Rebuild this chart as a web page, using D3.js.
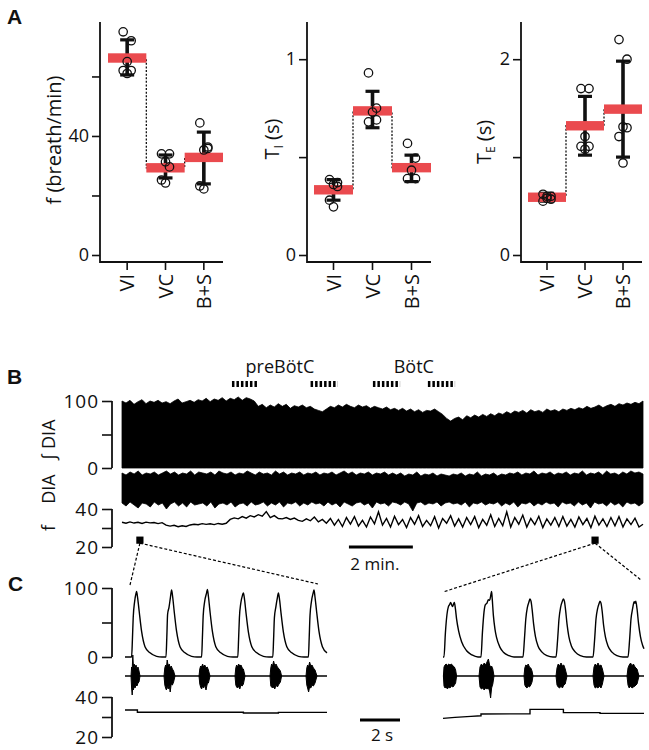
<!DOCTYPE html>
<html><head><meta charset="utf-8">
<script src="https://cdn.jsdelivr.net/npm/d3@7"></script>
<style>body{margin:0;background:#fff} svg{display:block} text{font-family:"Open Sans",sans-serif;fill:#111}</style>
</head><body><svg id="c" width="649" height="750"></svg>
<script>
// ---------------- Panel A data ----------------
const categories = ["VI", "VC", "B+S"];
const fPoints = [[75, 72, 65, 62, 62, 61], [34, 34, 31.3, 29.6, 25.2, 24.2], [44.4, 36.3, 35.3, 35.8, 23.2, 22.2]];
const fMean = [66.2, 29.3, 32.8];
const fErr = [[60.5, 72.3], [25.9, 33.6], [23.9, 41.3]];
const fTicks = [0, 20, 40, 60];
const fTickLabels = ["0", "", "40", ""];

const tiPoints = [[0.385, 0.37, 0.36, 0.35, 0.28, 0.246], [0.93, 0.75, 0.73, 0.69, 0.68], [0.57, 0.495, 0.433, 0.39, 0.39]];
const tiMean = [0.333, 0.736, 0.446];
const tiErr = [[0.28, 0.385], [0.65, 0.836], [0.375, 0.51]];
const tiTicks = [0, 0.5, 1];
const tiTickLabels = ["0", "", "1"];

const tePoints = [[0.62, 0.6, 0.58, 0.57, 0.55, 0.6], [1.70, 1.70, 1.21, 1.11, 1.11, 1.08], [2.2, 2.0, 1.31, 1.3, 1.21, 0.94]];
const teMean = [0.59, 1.32, 1.49];
const teErr = [[0.55, 0.63], [1.02, 1.62], [1.0, 1.98]];
const teTicks = [0, 1, 2];
const teTickLabels = ["0", "", "2"];

// ---------------- Panel B data (16.3 min recording) ----------------
const bSpanMin = 16.3;
const intDiaTop = [100,97,101,95,99,102,96,100,98,101,97,99,96,100,103,97,99,101,98,102,
 100,104,99,103,101,105,100,104,102,106,101,105,103,100,
 92,95,90,94,91,96,92,95,89,93,91,94,90,92,88,86,84,
 88,92,90,94,91,95,92,90,94,91,93,89,92,90,88,91,87,89,
 86,89,85,88,84,87,83,86,85,88,84,80,74,
 70,74,76,72,78,75,79,76,80,77,81,78,82,80,
 84,81,85,83,86,82,87,84,86,83,88,85,87,84,88,
 86,89,87,90,88,92,89,91,94,90,93,95,92,96,94,97,95,98,96,100];
const rawDiaTop = [14,12,15,13,16,12,14,13,15,12,14,16,13,15,12,14,13,16,12,15,
 14,13,15,12,16,14,13,15,12,14,13,16,14,12,
 15,13,14,12,16,13,15,12,14,13,15,12,14,13,15,12,14,
 13,15,12,14,16,13,15,12,14,13,15,12,14,13,15,12,14,
 12,14,11,13,12,15,11,13,12,14,11,13,12,
 11,13,12,14,11,13,12,15,11,13,12,14,11,13,
 12,14,13,15,12,14,13,16,12,14,13,15,12,14,13,
 15,12,14,13,16,12,14,13,15,12,16,13,14,12,15,13,16,14,15,13];
const rawDiaBottom = [-16,-19,-15,-18,-21,-16,-17,-20,-15,-18,-16,-22,-17,-15,-19,-16,-20,-15,-18,-17,
 -16,-19,-15,-21,-17,-16,-18,-15,-20,-17,-16,-19,-15,-18,
 -17,-15,-19,-16,-18,-15,-20,-16,-17,-15,-19,-16,-18,-15,-17,-16,-19,
 -15,-18,-16,-20,-15,-17,-19,-16,-15,-18,-16,-21,-15,-17,-16,-19,-15,
 -16,-18,-15,-17,-24,-16,-15,-18,-16,-17,-15,-19,-16,
 -15,-17,-16,-18,-15,-20,-16,-17,-15,-18,-16,-17,-15,-19,
 -16,-18,-15,-20,-16,-17,-15,-19,-16,-18,-15,-17,-16,-20,-15,
 -17,-16,-19,-15,-18,-16,-21,-15,-17,-16,-19,-15,-18,-16,-20,-15,-17,-16,-19,-16];
const freqB = [33,32.5,33.2,32.6,33,32.4,33.1,32.7,32.9,32.3,32.8,
 31.5,31,31.4,30.7,31.2,30.8,31.6,
 32,31.7,32.3,31.9,32.2,31.8,32.4,32,32.5,
 34.5,35.3,34.8,36,35.2,36.5,35.8,37,36.2,38.6,35.5,
 36.5,35,34.8,35.5,34.5,35.2,34,33.5,34.8,33.8,35.8,33.2,34.5,
 32.5,35,31.5,34.5,30.8,35.5,32,36,31,34,30.5,35.8,32.2,38.5,31.5,35,30.5,36.2,31.8,34.5,
 30.2,35.5,32,36.5,30.8,34,31.2,36,30,35,32.5,36.5,31,34.8,30.5,35.5,31.8,36,30.2,34.5,
 31.5,37,30.8,35,31.2,38.5,30.5,35.5,32,36.8,30.5,35,31.8,36.2,30.2,34.8,31.5,35.5,30.8,36,
 31,34.5,30.5,35.8,31.8,35,30.2,36.2,31.5,34.8,30.8,35.5,31.2,36,30.5,34.8,31.8,35.2,30.5,32];
const stimWindows = [[3.44, 4.25], [5.9, 6.75], [7.85, 8.7], [9.57, 10.42]];
const stimSites = ["preBötC", "BötC"];
const stimSiteCenters = [4.94, 9.13];
const zoomWindowsMin = [0.56, 14.8];
const bScaleBar = {start: 7.1, length: 2, label: "2 min."};
const intTicks = [0, 50, 100], intTickLabels = ["0", "", "100"];
const fTicksB = [20, 30, 40], fTickLabelsB = ["20", "", "40"];

// ---------------- Panel C data (seconds) ----------------
const cIntLeft = [[0,0],[0.33,0],[0.37,25],[0.41,57],[0.48,80],[0.55,92],[0.58,95],[0.63,86],[0.71,66],[0.83,37],[1.0,15],[1.25,6],[1.58,1],[1.85,0],
 [2.05,0],[2.09,28],[2.13,62],[2.2,72],[2.27,86],[2.33,97],[2.38,88],[2.46,66],[2.58,37],[2.75,15],[3.0,6],[3.33,1],[3.6,0],
 [3.83,0],[3.87,28],[3.91,60],[3.98,80],[4.08,93],[4.12,98],[4.17,88],[4.25,66],[4.37,37],[4.54,15],[4.79,6],[5.12,1],[5.4,0],
 [5.64,0],[5.68,26],[5.72,57],[5.79,78],[5.88,90],[5.92,93],[5.97,85],[6.05,64],[6.17,36],[6.34,15],[6.59,6],[6.92,1],[7.2,0],
 [7.39,0],[7.43,26],[7.47,57],[7.54,72],[7.62,86],[7.67,93],[7.72,85],[7.8,64],[7.92,36],[8.09,15],[8.34,6],[8.67,1],[8.95,0],
 [9.17,0],[9.21,28],[9.25,60],[9.32,80],[9.41,93],[9.45,97],[9.5,87],[9.58,66],[9.7,37],[9.87,15],[10.1,6]];
const cIntRight = [[0,0],[0.05,0],[0.12,35],[0.2,62],[0.27,73],[0.33,76],[0.38,79],[0.44,75],[0.48,73],[0.53,77],[0.57,79],[0.62,70],[0.68,55],[0.78,38],[0.93,22],[1.18,9],[1.45,3],[1.75,0],
 [1.9,0],[1.97,35],[2.05,65],[2.12,76],[2.2,78],[2.27,83],[2.33,82],[2.38,88],[2.43,95],[2.46,85],[2.52,60],[2.6,40],[2.68,28],[2.85,14],[3.02,7],[3.3,2],[3.55,0],
 [4.0,0],[4.07,25],[4.14,55],[4.22,72],[4.3,80],[4.35,84],[4.4,81],[4.46,68],[4.53,48],[4.62,30],[4.75,16],[4.95,7],[5.2,2],[5.5,0],
 [5.65,0],[5.73,25],[5.8,55],[5.88,72],[5.97,81],[6.02,84],[6.07,81],[6.13,68],[6.2,48],[6.29,30],[6.42,16],[6.62,7],[6.87,2],[7.17,0],
 [7.5,0],[7.58,25],[7.65,55],[7.73,70],[7.81,78],[7.85,81],[7.9,78],[7.96,66],[8.03,46],[8.12,29],[8.25,16],[8.45,7],[8.7,2],[9.0,0],
 [9.25,0],[9.33,25],[9.4,55],[9.48,70],[9.56,80],[9.6,78],[9.64,81],[9.7,70],[9.78,48],[9.87,30],[9.98,17],[10.05,12]];
const cBurstsLeft = [
 [[0.3,0,0],[0.33,9,-12],[0.36,6,-19],[0.39,21,-9],[0.42,10,-14],[0.46,12,-10],[0.5,8,-12],[0.55,11,-9],[0.6,7,-10],[0.65,9,-7],[0.7,5,-6],[0.75,0,0]],
 [[1.95,0,0],[1.99,8,-9],[2.03,11,-12],[2.07,8,-14],[2.11,16,-10],[2.16,10,-13],[2.21,12,-9],[2.26,8,-16],[2.31,10,-8],[2.37,7,-9],[2.43,5,-6],[2.5,0,0]],
 [[3.7,0,0],[3.74,7,-8],[3.78,10,-11],[3.83,9,-13],[3.88,12,-10],[3.93,9,-12],[3.99,11,-9],[4.05,8,-14],[4.11,9,-8],[4.17,6,-7],[4.25,0,0]],
 [[5.5,0,0],[5.54,8,-9],[5.58,11,-11],[5.63,9,-12],[5.68,12,-10],[5.74,10,-13],[5.8,11,-9],[5.86,8,-10],[5.92,7,-8],[6.0,0,0]],
 [[7.25,0,0],[7.29,8,-10],[7.33,12,-11],[7.38,10,-12],[7.43,15,-11],[7.49,10,-13],[7.55,12,-9],[7.62,9,-11],[7.7,7,-8],[7.77,5,-6],[7.83,0,0]],
 [[9.05,0,0],[9.09,8,-9],[9.13,11,-12],[9.18,9,-16],[9.23,14,-11],[9.29,10,-12],[9.35,11,-9],[9.42,8,-10],[9.5,6,-7],[9.6,0,0]]];
const cBurstsRight = [
 [[0.02,0,0],[0.05,9,-10],[0.1,11,-12],[0.16,12,-11],[0.22,10,-13],[0.28,12,-11],[0.35,11,-12],[0.42,12,-10],[0.5,10,-11],[0.57,9,-9],[0.63,6,-7],[0.68,0,0]],
 [[1.8,0,0],[1.85,9,-11],[1.92,12,-13],[1.99,10,-12],[2.06,13,-14],[2.13,11,-12],[2.2,14,-13],[2.27,17,-12],[2.33,11,-15],[2.38,9,-22],[2.43,10,-12],[2.49,7,-8],[2.55,0,0]],
 [[4.05,0,0],[4.09,8,-9],[4.14,11,-11],[4.2,10,-12],[4.26,12,-10],[4.32,9,-11],[4.39,8,-9],[4.45,5,-6],[4.5,0,0]],
 [[5.65,0,0],[5.7,8,-9],[5.76,12,-11],[5.83,10,-12],[5.9,13,-10],[5.97,10,-12],[6.04,11,-9],[6.11,7,-8],[6.2,0,0]],
 [[7.5,0,0],[7.55,9,-9],[7.61,12,-12],[7.68,10,-11],[7.75,13,-12],[7.82,10,-10],[7.9,11,-12],[7.97,7,-8],[8.05,0,0]],
 [[9.2,0,0],[9.25,8,-9],[9.31,11,-12],[9.38,13,-10],[9.45,10,-12],[9.52,12,-11],[9.6,9,-10],[9.7,7,-8],[9.8,0,0]]];
const cFreqLeft = [[0,33.5],[0.62,33.5],[0.62,32.4],[5.92,32.4],[5.92,32.0],[7.67,32.0],[7.67,32.3],[10.1,32.3]];
const cFreqRight = [[0,29.3],[0.6,29.8],[1.4,30.3],[1.9,30.6],[1.9,31.5],[4.35,31.6],[4.35,33.8],[6.02,33.8],[6.02,32.2],[7.85,32.2],[7.85,31.8],[10.05,31.8]];
const cScaleBar = {start: 11.75, length: 2, label: "2 s"};

// ---------------- drawing ----------------
const svg = d3.select("#c");
const RED = "#ea4a4e";
const jitter = [-4, 4, 0, 4, -4, 0];

function panelLetter(t, x, y) {
  svg.append("text").attr("x", x).attr("y", y).text(t)
    .style("font-family", "Arial, 'Liberation Sans', sans-serif").style("font-weight", "bold").style("font-size", "21px");
}
panelLetter("A", 7, 24); panelLetter("B", 7, 384); panelLetter("C", 8, 591);

function summaryPlot(opt) {
  const g = svg.append("g");
  const y = d3.scaleLinear().domain(opt.domain).range([255, opt.top]);
  const x = d3.scaleBand().domain(categories).range(opt.band).padding(0);
  const yAxisG = g.append("g").attr("transform", `translate(${opt.axisX},0)`)
    .call(d3.axisLeft(y).tickValues(opt.ticks).tickSize(8).tickSizeOuter(0).tickFormat((d, i) => opt.tickLabels[i]));
  yAxisG.select(".domain").remove();
  yAxisG.selectAll("line").attr("stroke", "#111").attr("stroke-width", 1.6);
  yAxisG.selectAll("text").style("font-size", "18px").attr("x", -11);
  const xAxisG = g.append("g").attr("transform", "translate(0,262)")
    .call(d3.axisBottom(x).tickSize(8).tickSizeOuter(0));
  xAxisG.select(".domain").remove();
  xAxisG.selectAll("line").attr("stroke", "#111").attr("stroke-width", 1.6);
  xAxisG.selectAll("text").attr("transform", "rotate(-90)").attr("x", -12).attr("y", 0).attr("dy", "0.36em")
    .attr("text-anchor", "end").style("font-size", "20px");
  g.append("path").attr("d", `M${opt.axisX},${opt.top}V262H${opt.band[1]}`).attr("fill", "none").attr("stroke", "#111").attr("stroke-width", 1.8);
  // dotted step connector between means
  const pts = [];
  categories.forEach((c, i) => { pts.push([x(c), y(opt.mean[i])]); pts.push([x(c) + x.bandwidth(), y(opt.mean[i])]); });
  g.append("path").attr("d", d3.line()(pts)).attr("fill", "none").attr("stroke", "#111").attr("stroke-width", 1.3).attr("stroke-dasharray", "2,1.6");
  // error bars
  categories.forEach((c, i) => {
    const cx = x(c) + x.bandwidth() / 2;
    const [lo, hi] = opt.err[i];
    g.append("line").attr("x1", cx).attr("x2", cx).attr("y1", y(lo)).attr("y2", y(hi)).attr("stroke", "#111").attr("stroke-width", 3.6);
    [lo, hi].forEach(v => g.append("line").attr("x1", cx - 7).attr("x2", cx + 7).attr("y1", y(v)).attr("y2", y(v)).attr("stroke", "#111").attr("stroke-width", 3.2));
  });
  // mean bars
  g.selectAll("rect.mean").data(opt.mean).join("rect")
    .attr("x", (d, i) => x(categories[i])).attr("width", x.bandwidth())
    .attr("y", d => y(d) - 4.7).attr("height", 9.4).attr("fill", RED);
  // points
  categories.forEach((c, i) => {
    const cx = x(c) + x.bandwidth() / 2;
    g.selectAll(null).data(opt.points[i]).join("circle")
      .attr("cx", (d, j) => cx + jitter[j % jitter.length]).attr("cy", d => y(d)).attr("r", 4.2)
      .attr("fill", "none").attr("stroke", "#111").attr("stroke-width", 1.3);
  });
  // y label
  const lab = g.append("text").attr("transform", `translate(${opt.labelX},${opt.labelY}) rotate(-90)`)
    .attr("text-anchor", "middle").style("font-size", "20px");
  lab.append("tspan").text(opt.label[0]);
  if (opt.label[1]) {
    lab.append("tspan").text(opt.label[1]).style("font-size", "12px").attr("dy", 4);
    lab.append("tspan").text(" " + opt.label[2]).attr("dy", -4);
  }
}
summaryPlot({axisX: 100, band: [108, 223], domain: [0, 78.3], top: 22, ticks: fTicks, tickLabels: fTickLabels,
  mean: fMean, err: fErr, points: fPoints, label: ["f (breath/min)"], labelX: 61, labelY: 140});
summaryPlot({axisX: 307, band: [314, 431], domain: [0, 1.19], top: 22, ticks: tiTicks, tickLabels: tiTickLabels,
  mean: tiMean, err: tiErr, points: tiPoints, label: ["T", "I", "(s)"], labelX: 279, labelY: 139});
summaryPlot({axisX: 521, band: [528, 642], domain: [0, 2.38], top: 22, ticks: teTicks, tickLabels: teTickLabels,
  mean: teMean, err: teErr, points: tePoints, label: ["T", "E", "(s)"], labelX: 491, labelY: 142});

// ---------- Panel B ----------
const xB = d3.scaleLinear().domain([0, bSpanMin]).range([122, 643]);
const yInt = d3.scaleLinear().domain([0, 100]).range([468, 401]);
const yRaw = d3.scaleLinear().domain([-20, 20]).range([507, 467]);
const yFB = d3.scaleLinear().domain([20, 40]).range([547, 509]);
const tOf = arr => (d, i) => xB(i * bSpanMin / (arr.length - 1));

function leftAxis(scale, ticks, labels, x) {
  const a = svg.append("g").attr("transform", `translate(${x},0)`)
    .call(d3.axisLeft(scale).tickValues(ticks).tickSize(10).tickSizeOuter(0).tickFormat((d, i) => labels[i]));
  a.select(".domain").attr("stroke", "#111").attr("stroke-width", 1.8).attr("d", `M0,${scale(ticks[0])}V${scale(ticks[ticks.length - 1])}`);
  a.selectAll("line").attr("stroke", "#111").attr("stroke-width", 1.6);
  a.selectAll("text").style("font-size", "19px").attr("x", -13).style("letter-spacing", "1px");
}
leftAxis(yInt, intTicks, intTickLabels, 112);
leftAxis(yFB, fTicksB, fTickLabelsB, 112);

svg.append("path").datum(intDiaTop)
  .attr("d", d3.area().x(tOf(intDiaTop)).y0(yInt(0)).y1(d => yInt(d)))
  .attr("fill", "#000").attr("stroke", "#000").attr("stroke-width", 0.8);
const rawPairs = rawDiaTop.map((v, i) => [v, rawDiaBottom[i]]);
svg.append("path").datum(rawPairs)
  .attr("d", d3.area().x(tOf(rawPairs)).y0(d => yRaw(d[1])).y1(d => yRaw(d[0])))
  .attr("fill", "#000").attr("stroke", "#000").attr("stroke-width", 0.8);
svg.append("path").datum(freqB)
  .attr("d", d3.line().x(tOf(freqB)).y(d => yFB(d)))
  .attr("fill", "none").attr("stroke", "#000").attr("stroke-width", 1.4);

// trace labels
function rotLabel(txt, x, y) {
  return svg.append("text").attr("transform", `translate(${x},${y}) rotate(-90)`).attr("text-anchor", "middle").style("font-size", "18px").text(txt);
}
rotLabel("∫ DIA", 55, 440);
rotLabel("DIA", 55, 489);
rotLabel("f", 55, 528);

// stimulation marks
svg.selectAll(null).data(stimWindows).join("line")
  .attr("x1", d => xB(d[0])).attr("x2", d => xB(d[1])).attr("y1", 384).attr("y2", 384)
  .attr("stroke", "#000").attr("stroke-width", 6).attr("stroke-dasharray", "2.5,2");
svg.selectAll(null).data(stimSites).join("text")
  .attr("x", (d, i) => xB(stimSiteCenters[i])).attr("y", 373).attr("text-anchor", "middle").style("font-size", "18px").text(d => d);

// scale bar
svg.append("line").attr("x1", xB(bScaleBar.start)).attr("x2", xB(bScaleBar.start + bScaleBar.length))
  .attr("y1", 547).attr("y2", 547).attr("stroke", "#000").attr("stroke-width", 3.2);
svg.append("text").attr("x", xB(bScaleBar.start + bScaleBar.length / 2) - 6).attr("y", 570).attr("text-anchor", "middle")
  .style("font-size", "17px").text(bScaleBar.label);

// ---------- Panel C ----------
const xCL = d3.scaleLinear().domain([0, 10.1]).range([125, 327]);
const xCR = d3.scaleLinear().domain([0, 10.05]).range([443, 644]);
const yCInt = d3.scaleLinear().domain([0, 100]).range([657, 588]);
const yCRaw = d3.scaleLinear().domain([-20, 20]).range([696, 656]);
const yCF = d3.scaleLinear().domain([20, 40]).range([737, 697]);
leftAxis(yCInt, intTicks, intTickLabels, 112);
leftAxis(yCF, fTicksB, fTickLabelsB, 112);

// zoom windows (squares and dotted guide lines)
const sqY = yFB(23.6);
const zoomTargets = [[xCL(0.25), 585, xCL(9.65), 584], [xCR(0), 592, xCR(9.9), 580]];
zoomWindowsMin.forEach((t, i) => {
  const cx = xB(t);
  svg.append("rect").attr("x", cx - 3.6).attr("y", sqY - 3.6).attr("width", 7.2).attr("height", 7.2).attr("fill", "#000");
  const [ax, ay, bx, by] = zoomTargets[i];
  [[ax, ay], [bx, by]].forEach(p => svg.append("line").attr("x1", cx).attr("y1", sqY + 3).attr("x2", p[0]).attr("y2", p[1])
    .attr("stroke", "#000").attr("stroke-width", 1.2).attr("stroke-dasharray", "3,2"));
});

function cTraces(xs, intData, bursts, fData) {
  svg.append("path").datum(intData).attr("d", d3.line().x(d => xs(d[0])).y(d => yCInt(d[1])).curve(d3.curveMonotoneX))
    .attr("fill", "none").attr("stroke", "#000").attr("stroke-width", 1.4);
  const dom = xs.domain();
  svg.append("line").attr("x1", xs(dom[0])).attr("x2", xs(dom[1])).attr("y1", yCRaw(0)).attr("y2", yCRaw(0))
    .attr("stroke", "#000").attr("stroke-width", 1.4);
  bursts.forEach(b => svg.append("path").datum(b)
    .attr("d", d3.area().x(d => xs(d[0])).y0(d => yCRaw(d[2])).y1(d => yCRaw(d[1])))
    .attr("fill", "#000").attr("stroke", "#000").attr("stroke-width", 1));
  svg.append("path").datum(fData).attr("d", d3.line().x(d => xs(d[0])).y(d => yCF(d[1])))
    .attr("fill", "none").attr("stroke", "#000").attr("stroke-width", 1.4);
}
cTraces(xCL, cIntLeft, cBurstsLeft, cFreqLeft);
cTraces(xCR, cIntRight, cBurstsRight, cFreqRight);

svg.append("line").attr("x1", xCL(cScaleBar.start)).attr("x2", xCL(cScaleBar.start + cScaleBar.length))
  .attr("y1", 720).attr("y2", 720).attr("stroke", "#000").attr("stroke-width", 3.2);
svg.append("text").attr("x", xCL(cScaleBar.start + cScaleBar.length / 2) + 2).attr("y", 741).attr("text-anchor", "middle")
  .style("font-size", "17px").text(cScaleBar.label);
</script></body></html>
